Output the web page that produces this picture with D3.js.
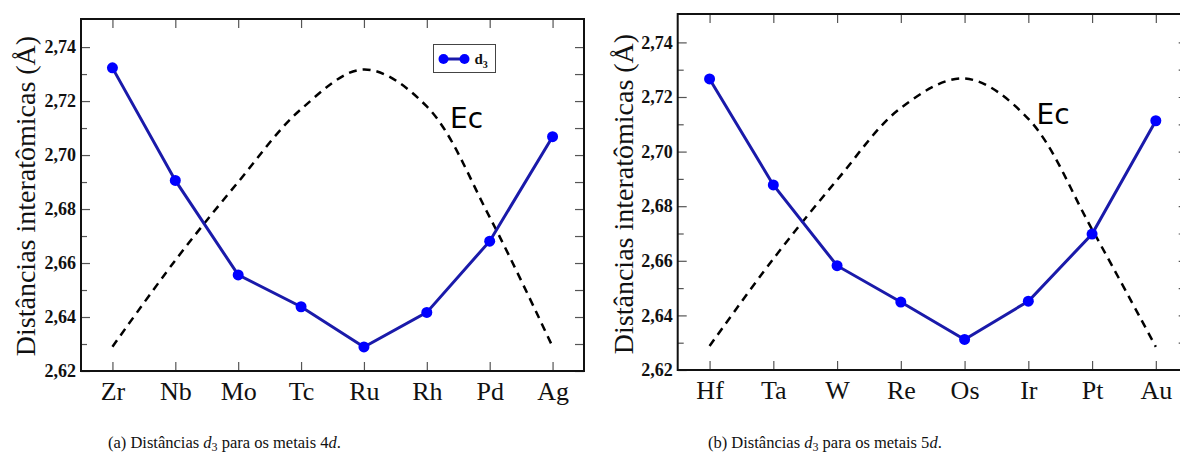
<!DOCTYPE html>
<html>
<head>
<meta charset="utf-8">
<script src="https://cdn.jsdelivr.net/npm/d3@7"></script>
<style>
  body { margin: 0; background: #fff; }
  svg { display: block; }
</style>
</head>
<body>
<svg id="viz" width="1180" height="467"></svg>
<script>
// metals of each row
let metals4d = ["Zr", "Nb", "Mo", "Tc", "Ru", "Rh", "Pd", "Ag"];
let metals5d = ["Hf", "Ta", "W", "Re", "Os", "Ir", "Pt", "Au"];

// d3 distances (Å)
let d3_4d = [2.7323, 2.6906, 2.6556, 2.6438, 2.6289, 2.6417, 2.6681, 2.7068];
let d3_5d = [2.7266, 2.6878, 2.6582, 2.6449, 2.6312, 2.6452, 2.6698, 2.7113];

// Ec guide curve (dashed), drawn on the same axis
let ec_4d = [2.629, 2.661, 2.690, 2.717, 2.7317, 2.718, 2.677, 2.629];
let ec_5d = [2.6288, 2.6607, 2.6896, 2.716, 2.7268, 2.712, 2.6715, 2.6285];

let yTicks = [2.62, 2.64, 2.66, 2.68, 2.70, 2.72, 2.74];
let yMinor = [2.63, 2.65, 2.67, 2.69, 2.71, 2.73];
let yDomain = [2.62, 2.7504];

let captions = [
  { tag: "(a)", metal: "4" },
  { tag: "(b)", metal: "5" },
];

let svg = d3.select("#viz");
let fmt = d => d.toFixed(2).replace(".", ",");
let SERIF = "'Liberation Serif', 'Times New Roman', serif";

function drawPanel(p) {
  let w = p.right - p.left, h = p.bottom - p.top;
  let g = svg.append("g").attr("transform", `translate(${p.left},${p.top})`);

  let xScale = d3.scaleLinear().domain([-0.5, 7.5]).range([0, w]);
  let yScale = d3.scaleLinear().domain(yDomain).range([h, 0]);
  let idx = d3.range(p.names.length);

  // bottom axis with labels
  let xb = g.append("g").attr("transform", `translate(0,${h})`)
    .call(d3.axisBottom(xScale).tickValues(idx).tickFormat(i => p.names[i])
      .tickSizeInner(-9).tickSizeOuter(0).tickPadding(10.5));
  // top axis, ticks only
  let xt = g.append("g")
    .call(d3.axisTop(xScale).tickValues(idx).tickFormat("")
      .tickSizeInner(-9).tickSizeOuter(0));
  // left axis
  let yl = g.append("g")
    .call(d3.axisLeft(yScale).tickValues(yTicks).tickFormat(fmt)
      .tickSizeInner(-9).tickSizeOuter(0).tickPadding(5));
  let ylm = g.append("g")
    .call(d3.axisLeft(yScale).tickValues(yMinor).tickFormat("")
      .tickSizeInner(-6).tickSizeOuter(0));
  // right axis (ticks pointing inwards)
  let yr = g.append("g").attr("transform", `translate(${w},0)`)
    .call(d3.axisRight(yScale).tickValues(yTicks.concat(yMinor)).tickFormat(""))
    .call(a => a.selectAll(".tick line").attr("x2", -9));

  [xb, xt, yl, ylm, yr].forEach(a => {
    a.select(".domain").remove();
    a.attr("font-family", null).style("font-family", SERIF);
    a.selectAll(".tick line").attr("stroke", "#555").attr("stroke-width", 1.2);
  });
  xb.selectAll("text").attr("font-size", 26).attr("fill", "#111");
  yl.selectAll("text").attr("font-size", 18).attr("font-weight", "bold").attr("fill", "#111");

  // frame
  g.append("rect").attr("width", w).attr("height", h)
    .attr("fill", "none").attr("stroke", "#111").attr("stroke-width", 2);

  // Ec dashed curve
  let ecLine = d3.line().x((d, i) => xScale(i)).y(d => yScale(d))
    .curve(d3.curveCatmullRom.alpha(0.5));
  g.append("path").datum(p.ec).attr("d", ecLine)
    .attr("fill", "none").attr("stroke", "#000")
    .attr("stroke-width", 2.5).attr("stroke-dasharray", "8,6");

  // d3 series
  let dLine = d3.line().x((d, i) => xScale(i)).y(d => yScale(d));
  g.append("path").datum(p.d3).attr("d", dLine)
    .attr("fill", "none").attr("stroke", "#1a1aaa").attr("stroke-width", 3);
  g.selectAll("circle.pt").data(p.d3).enter().append("circle")
    .attr("class", "pt")
    .attr("cx", (d, i) => xScale(i)).attr("cy", d => yScale(d))
    .attr("r", 5.5).attr("fill", "#0000ff");

  // Ec label
  g.append("text").attr("x", p.ecLabel[0] - p.left).attr("y", p.ecLabel[1] - p.top)
    .style("font-family", "'DejaVu Sans', sans-serif").attr("font-size", 28)
    .attr("fill", "#000").text("Ec");

  // y title
  svg.append("text")
    .attr("transform", `translate(${p.titleX},${p.titleY}) rotate(-90)`)
    .attr("text-anchor", "middle")
    .style("font-family", SERIF).attr("font-size", 28)
    .attr("fill", "#111").text("Distâncias interatômicas (Å)");

  if (p.legend) {
    let lg = svg.append("g").attr("transform", "translate(433.5,44.5)");
    lg.append("rect").attr("width", 62).attr("height", 28)
      .attr("fill", "#fff").attr("stroke", "#444").attr("stroke-width", 1);
    lg.append("line").attr("x1", 10).attr("x2", 31).attr("y1", 14.5).attr("y2", 14.5)
      .attr("stroke", "#1a1aaa").attr("stroke-width", 3);
    [10, 31].forEach(cx => lg.append("circle").attr("cx", cx).attr("cy", 14.5)
      .attr("r", 5).attr("fill", "#0000ff"));
    let t = lg.append("text").attr("x", 41).attr("y", 19)
      .style("font-family", SERIF).attr("font-weight", "bold")
      .attr("font-size", 15).attr("fill", "#111");
    t.append("tspan").text("d");
    t.append("tspan").attr("dy", 4).attr("font-size", 10).text("3");
  }
}

drawPanel({
  left: 81, right: 584, top: 19, bottom: 371,
  names: metals4d, d3: d3_4d, ec: ec_4d,
  ecLabel: [450, 128], titleX: 35, titleY: 196, legend: true,
});
drawPanel({
  left: 677.7, right: 1187.7, top: 14, bottom: 370,
  names: metals5d, d3: d3_5d, ec: ec_5d,
  ecLabel: [1036.5, 124], titleX: 633, titleY: 194, legend: false,
});

// captions
[108, 708].forEach((x, i) => {
  let c = captions[i];
  let t = svg.append("text").attr("x", x).attr("y", 448)
    .style("font-family", SERIF).attr("font-size", 16.5)
    .attr("fill", "#111");
  t.append("tspan").text(c.tag + " Distâncias ");
  t.append("tspan").attr("font-style", "italic").text("d");
  t.append("tspan").attr("font-size", 12).attr("dy", 3).text("3");
  t.append("tspan").attr("dy", -3).text(" para os metais " + c.metal);
  t.append("tspan").attr("font-style", "italic").text("d");
  t.append("tspan").text(".");
});
</script>
</body>
</html>
